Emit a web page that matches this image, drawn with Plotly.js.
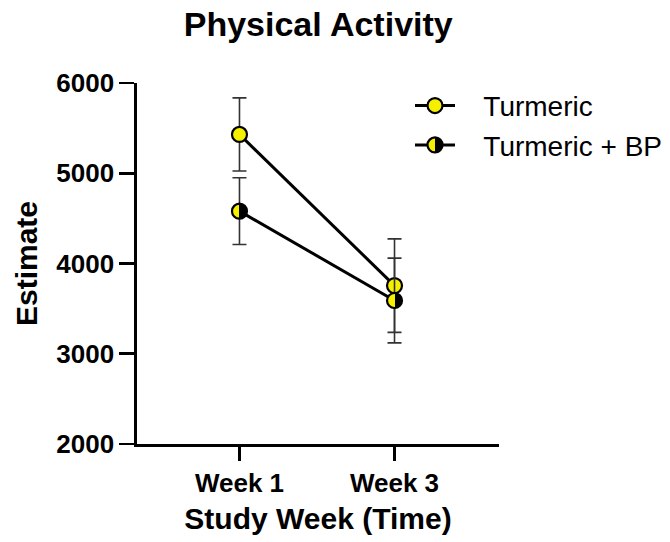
<!DOCTYPE html>
<html>
<head>
<meta charset="utf-8">
<script src="https://cdn.plot.ly/plotly-3.0.1.min.js"></script>
<style>html,body{margin:0;padding:0;background:#fff;}#chart{width:670px;height:542px;}</style>
</head>
<body>
<div id="chart"></div>
<script>
const weeks = ["Week 1", "Week 3"];
const seriesNames = ["Turmeric", "Turmeric + BP"];
const turmeric = [5430, 3755];
const turmericErr = [405, 518];
const turmericBP = [4580, 3590];
const turmericBPErr = [370, 470];

const font = "Liberation Sans, Arial, sans-serif";
const pad = "\u00A0\u00A0\u00A0";

const errStyle = {type: "data", visible: true, color: "#333333", thickness: 1.6, width: 7};

const traces = [
  {
    x: weeks, y: turmeric, name: pad + seriesNames[0], type: "scatter", mode: "lines+markers",
    line: {color: "#000000", width: 3},
    marker: {size: 15, color: "#f5f000", line: {color: "#000000", width: 2.2}},
    error_y: Object.assign({array: turmericErr}, errStyle)
  },
  {
    x: weeks, y: turmericBP, name: pad + seriesNames[1], type: "scatter", mode: "lines+markers",
    line: {color: "#000000", width: 3},
    marker: {size: 15, color: "#f5f000", gradient: {type: "horizontal", color: "#000000"},
             line: {color: "#000000", width: 2.2}},
    error_y: Object.assign({array: turmericBPErr}, errStyle)
  }
];

const layout = {
  width: 670, height: 542,
  margin: {l: 137, r: 171, t: 83, b: 98, autoexpand: false},
  paper_bgcolor: "#ffffff", plot_bgcolor: "#ffffff",
  font: {family: font, color: "#000000"},
  title: {text: "<b>Physical Activity</b>", font: {size: 34, family: font, color: "#000000"},
          x: 0.475, xanchor: "center", y: 0.955, yanchor: "middle"},
  xaxis: {
    type: "category", range: [-0.661, 1.674],
    showline: true, linecolor: "#000000", linewidth: 2.6,
    ticks: "outside", ticklen: 14, tickwidth: 2.6, tickcolor: "#000000",
    showgrid: false, zeroline: false,
    tickfont: {size: 26, family: font, weight: "bold"},
    title: {text: "<b>Study Week (Time)</b>", font: {size: 30, family: font}, standoff: 12}
  },
  yaxis: {
    range: [2000, 6000], tickvals: [2000, 3000, 4000, 5000, 6000],
    showline: true, linecolor: "#000000", linewidth: 2.6,
    ticks: "outside", ticklen: 15, tickwidth: 2.6, tickcolor: "#000000",
    showgrid: false, zeroline: false,
    tickfont: {size: 26, family: font, weight: "bold"},
    title: {text: "<b>Estimate</b>", font: {size: 30, family: font}, standoff: 10}
  },
  legend: {
    xref: "paper", yanchor: "top",
    font: {size: 28, family: font, color: "#000000"},
    bgcolor: "rgba(0,0,0,0)", itemwidth: 40, tracegroupgap: 0
  },
  showlegend: true
};
layout.legend.x = (410 - 137) / (670 - 137 - 171);
layout.legend.y = 1.006;

Plotly.newPlot("chart", traces, layout, {displayModeBar: false, staticPlot: true}).then(function (gd) {
  // make the horizontal marker gradient a hard half/half split
  document.querySelectorAll("linearGradient").forEach(function (g) {
    const stops = g.querySelectorAll("stop");
    if (stops.length === 2) {
      stops[0].setAttribute("offset", "50%");
      stops[1].setAttribute("offset", "50%");
    }
  });
});
</script>
</body>
</html>
